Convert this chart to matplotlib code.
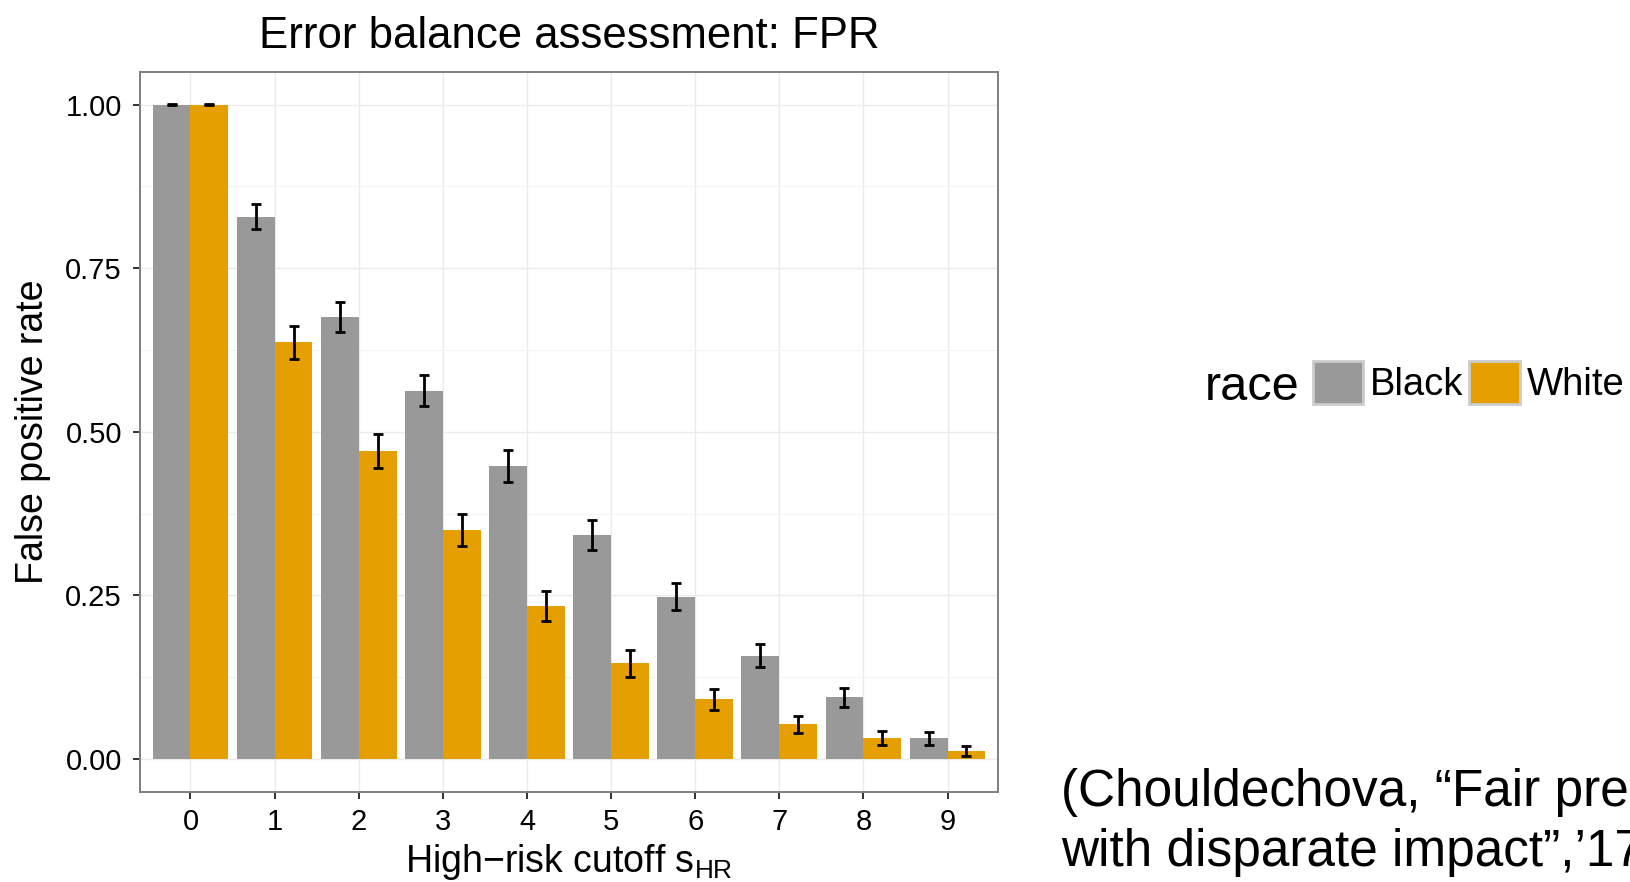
"""
Error balance assessment: FPR by high-risk cutoff, grouped bars with error bars
"""

import matplotlib
matplotlib.use('Agg')
import matplotlib.pyplot as plt
from matplotlib.patches import Patch
import numpy as np

plt.rcParams['font.family'] = ['Liberation Sans', 'DejaVu Sans']
plt.rcParams['mathtext.fontset'] = 'custom'
plt.rcParams['mathtext.rm'] = 'Liberation Sans'

# data
cutoffs = ['0', '1', '2', '3', '4', '5', '6', '7', '8', '9']
races = ['Black', 'White']
fpr_black = [1.000, 0.829, 0.676, 0.563, 0.448, 0.342, 0.248, 0.158, 0.094, 0.032]
fpr_white = [1.000, 0.637, 0.471, 0.350, 0.234, 0.146, 0.091, 0.053, 0.032, 0.012]
err_black = [0.001, 0.019, 0.023, 0.024, 0.024, 0.023, 0.021, 0.018, 0.015, 0.010]
err_white = [0.001, 0.025, 0.026, 0.025, 0.023, 0.020, 0.016, 0.013, 0.011, 0.008]
colors = {'Black': '#999999', 'White': '#E69F00'}

fig = plt.figure(figsize=(16.31, 8.82), dpi=100)
ax = fig.add_axes([140 / 1631, 1 - 791.7 / 882, (998 - 140) / 1631, (791.7 - 72) / 882])

x = np.arange(len(cutoffs))
w = 0.45
for off, vals, errs, race in [(-w / 2, fpr_black, err_black, 'Black'),
                              (w / 2, fpr_white, err_white, 'White')]:
    ax.bar(x + off, vals, width=w, color=colors[race], zorder=3)
    ax.errorbar(x + off, vals, yerr=errs, fmt='none', ecolor='black',
                elinewidth=2.0, capsize=3.6, capthick=2.0, zorder=4)

ax.set_xlim(-0.6, 9.6)
ax.set_ylim(-0.05, 1.05)
ax.set_xticks(x)
ax.set_xticklabels(cutoffs)
ax.set_yticks([0, 0.25, 0.5, 0.75, 1.0])
ax.set_yticklabels(['0.00', '0.25', '0.50', '0.75', '1.00'])
ax.set_yticks([0.125, 0.375, 0.625, 0.875], minor=True)

ax.grid(True, which='major', color='#ebebeb', linewidth=1.0, zorder=0)
ax.grid(True, which='minor', axis='y', color='#f4f4f4', linewidth=0.8, zorder=0)
ax.set_axisbelow(True)

for sp in ax.spines.values():
    sp.set_color('#7f7f7f')
    sp.set_linewidth(1.4)

ax.tick_params(axis='both', which='major', length=5, width=1.4, color='#333333',
               labelsize=21, labelcolor='black')
ax.tick_params(axis='y', pad=8)
ax.tick_params(axis='x', pad=7)
ax.tick_params(which='minor', length=0)

ax.set_ylabel('False positive rate', fontsize=27, labelpad=10)
ax.set_xlabel('High\u2212risk cutoff $\\mathregular{s_{HR}}$', fontsize=27, labelpad=4)
ax.set_title('Error balance assessment: FPR', fontsize=31.5, pad=17)

# legend, horizontal with title on the left
handles = [Patch(facecolor=colors[r], edgecolor='#cccccc', linewidth=2) for r in races]
fig.legend(handles, races, loc='center left', bbox_to_anchor=(1312.7 / 1631, 1 - 382.5 / 882),
           ncol=2, frameon=False, fontsize=27.5, borderpad=0, borderaxespad=0,
           handlelength=1.31, handleheight=1.33, handletextpad=0.2, columnspacing=0.15)
fig.text(1205 / 1631, 1 - 400.5 / 882, 'race', fontsize=35, va='baseline', ha='left')

# citation (runs off the right edge, as in the reference)
fig.text(1061 / 1631, 1 - 806 / 882, '(Chouldechova, \u201cFair prediction',
         fontsize=37, va='baseline', ha='left')
fig.text(1061 / 1631, 1 - 866 / 882, 'with disparate impact\u201d,\u201917)',
         fontsize=37, va='baseline', ha='left')

fig.savefig('out.png', dpi=100, facecolor='white')
